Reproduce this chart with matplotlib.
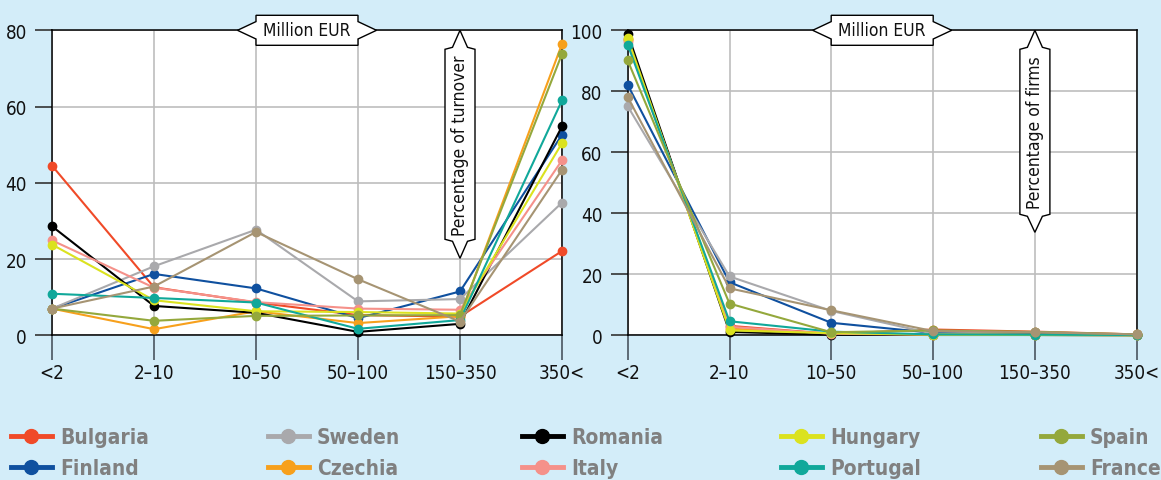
import numpy as np
import matplotlib
matplotlib.use('Agg')
import matplotlib.pyplot as plt
import matplotlib.transforms as mtransforms
from matplotlib.patches import Polygon
from matplotlib.lines import Line2D

plt.rcParams['font.family'] = ['DejaVu Sans']
plt.rcParams['font.stretch'] = 'condensed'

categories = ['<2', '2\u201310', '10\u201350', '50\u2013100', '150\u2013350', '350<']

countries = ['Bulgaria', 'Finland', 'Sweden', 'Czechia', 'Romania',
             'Italy', 'Hungary', 'Portugal', 'Spain', 'France']
colours = ['#f04a28', '#0f509f', '#a9a9ac', '#f7a01c', '#000000',
           '#f5918a', '#dbe21f', '#10a89a', '#94a83c', '#a69473']

# percentage of turnover by size class
turnover = {
    'Bulgaria': [44.5, 12.6, 8.6, 5.3, 4.9, 22.1],
    'Finland':  [7.0, 16.1, 12.3, 4.5, 11.5, 52.6],
    'Sweden':   [7.0, 18.1, 27.7, 8.9, 9.5, 34.8],
    'Czechia':  [7.0, 1.6, 6.3, 3.2, 5.0, 76.4],
    'Romania':  [28.6, 7.7, 5.9, 0.9, 3.0, 54.8],
    'Italy':    [24.9, 12.5, 8.7, 7.0, 6.7, 45.9],
    'Hungary':  [23.8, 9.2, 6.3, 6.1, 5.7, 50.4],
    'Portugal': [10.9, 9.8, 8.6, 1.7, 4.0, 61.6],
    'Spain':    [7.0, 3.8, 5.1, 5.2, 5.3, 73.8],
    'France':   [7.0, 12.8, 27.1, 14.7, 3.6, 43.4],
}

# percentage of firms by size class
firms = {
    'Bulgaria': [97.0, 3.1, 0.5, 1.9, 1.2, 0.3],
    'Finland':  [82.1, 17.4, 4.1, 0.8, 0.5, 0.2],
    'Sweden':   [75.1, 19.3, 8.0, 0.5, 1.1, 0.0],
    'Czechia':  [96.8, 2.2, 0.5, 0.3, 0.2, 0.1],
    'Romania':  [98.9, 1.1, 0.2, 0.1, 0.1, 0.0],
    'Italy':    [96.3, 2.8, 0.5, 0.2, 0.1, 0.1],
    'Hungary':  [97.5, 1.6, 0.7, 0.2, 0.1, 0.0],
    'Portugal': [95.3, 4.6, 1.2, 0.3, 0.2, 0.1],
    'Spain':    [90.1, 10.4, 1.0, 1.6, 1.1, 0.3],
    'France':   [78.1, 15.4, 8.2, 1.4, 1.0, 0.3],
}

bg = '#d3edf9'
W, H = 1161, 481
fig = plt.figure(figsize=(W / 100, H / 100), dpi=100, facecolor=bg)

ax1 = fig.add_axes([52 / W, 1 - 336.3 / H, 510 / W, 305 / H])
ax2 = fig.add_axes([627.7 / W, 1 - 336.3 / H, 509 / W, 305 / H])

x = np.arange(len(categories))


def box(ax, xd, yd, verts, text, rotation=0, tx=0, ty=0):
    # verts are pixel offsets from the data point (xd, yd)
    trans = fig.dpi_scale_trans + mtransforms.ScaledTranslation(xd, yd, ax.transData)
    v = np.array(verts) / 100.0
    p = Polygon(v, closed=True, facecolor='white', edgecolor='black', lw=1.0,
                transform=trans, clip_on=False, zorder=10)
    ax.add_patch(p)
    ax.text(tx / 100.0, ty / 100.0, text, transform=trans, ha='center', va='center',
            rotation=rotation, fontsize=12.5, color='#111111', zorder=11, clip_on=False)


def hbox():
    return [(-51, 15), (51, 15), (51, 8.7), (69.5, 0), (51, -8.7), (51, -15),
            (-51, -15), (-51, -8.7), (-69.5, 0), (-51, 8.7)]


def vbox(bottom, tip):
    return [(0, 0), (7.5, -17), (15, -19), (15, bottom), (7.5, bottom - 2),
            (0, tip), (-7.5, bottom - 2), (-15, bottom), (-15, -19), (-7.5, -17)]


for ax, data, top in [(ax1, turnover, 80), (ax2, firms, 100)]:
    ax.set_facecolor('white')
    for c, col in zip(countries, colours):
        ax.plot(x, data[c], color=col, marker='o', ms=6, lw=1.5, clip_on=False, zorder=3)
    ax.set_xlim(0, 5)
    ax.set_ylim(0, top)
    ax.set_xticks(x)
    ax.set_xticklabels(categories)
    ax.set_yticks(np.arange(0, top + 1, 20))
    ax.grid(True, color='#bdbdbd', lw=1.2)
    ax.set_axisbelow(True)
    for s in ax.spines.values():
        s.set_color('black')
        s.set_linewidth(1.1)
    ax.tick_params(axis='x', length=18, width=1.2, color='#4a5560', pad=2,
                   labelsize=13.5, labelcolor='#111111')
    ax.tick_params(axis='y', length=12, width=1.2, color='#333333', pad=6,
                   labelsize=13.5, labelcolor='#111111')

box(ax1, 2.5, 80, hbox(), 'Million EUR')
box(ax2, 2.5, 100, hbox(), 'Million EUR')
box(ax1, 4, 80, vbox(-209, -228), 'Percentage of turnover', rotation=90, ty=-114)
box(ax2, 4, 100, vbox(-184, -202), 'Percentage of firms', rotation=90, ty=-101)

# legend: five columns of two entries
col_x = [11, 268, 522, 781, 1041]
for i in range(5):
    hs = []
    for j in range(2):
        k = 2 * i + j
        hs.append(Line2D([], [], color=colours[k], lw=3.5, marker='o', ms=10,
                         label=countries[k]))
    fig.legend(handles=hs, loc='upper left', bbox_to_anchor=(col_x[i] / W, 1 - 428 / H),
               frameon=False, handlelength=1.95, handletextpad=0.4, labelspacing=0.55,
               borderaxespad=0, borderpad=0,
               prop={'weight': 'bold', 'size': 15}, labelcolor='#808080')

fig.savefig('out.png', dpi=100, facecolor=bg)
